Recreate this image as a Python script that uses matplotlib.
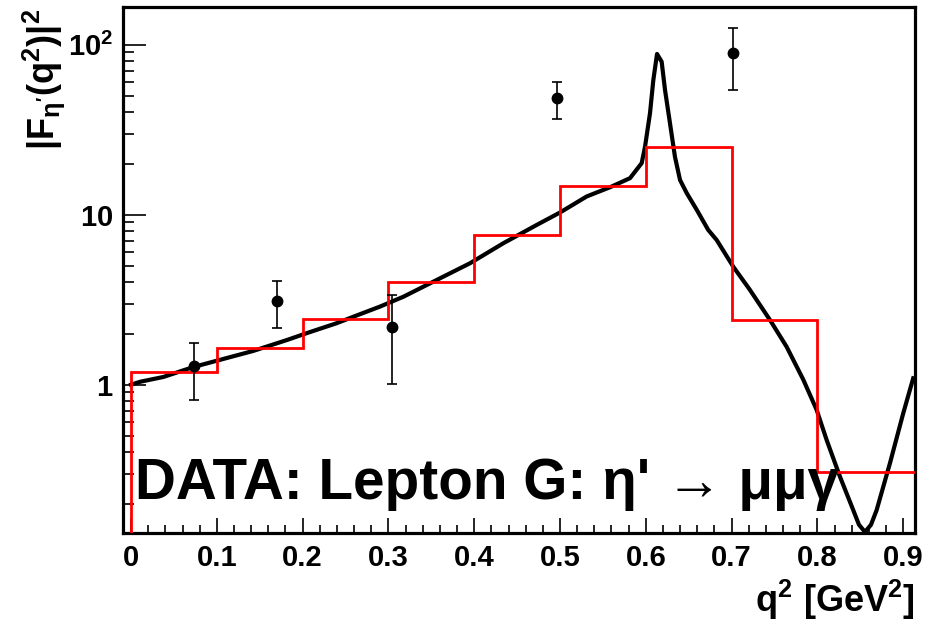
import numpy as np
import matplotlib
matplotlib.use("Agg")
import matplotlib.pyplot as plt
from matplotlib.ticker import FixedLocator, FixedFormatter, MultipleLocator, NullFormatter

# ---------------- data ----------------
# theory curve |F(q^2)|^2
curve_x = [0.000, 0.0105, 0.0376, 0.0726, 0.1037, 0.1425, 0.1815, 0.2048, 0.2397, 0.2591,
           0.2902, 0.3174, 0.3563, 0.3951, 0.4339, 0.4728, 0.5000, 0.5311, 0.5583, 0.5816,
           0.5952, 0.5991, 0.6049, 0.6088, 0.6131, 0.6185, 0.6224, 0.6282, 0.6340, 0.6399,
           0.6477, 0.6593, 0.6728, 0.6826, 0.7020, 0.7214, 0.7448, 0.7642, 0.7836, 0.7992,
           0.8108, 0.8263, 0.8418, 0.8485, 0.8555, 0.8625, 0.8691, 0.8846, 0.9001, 0.9117]
curve_y = [1.00, 1.04, 1.11, 1.27, 1.40, 1.58, 1.83, 2.01, 2.30, 2.51,
           2.88, 3.29, 4.13, 5.18, 6.79, 8.70, 10.3, 12.8, 14.5, 16.4,
           20.1, 25.1, 39.5, 62.0, 88.2, 79.4, 54.2, 34.5, 21.9, 16.0,
           13.4, 10.7, 8.13, 7.10, 4.94, 3.61, 2.40, 1.67, 1.07, 0.710,
           0.473, 0.288, 0.183, 0.150, 0.136, 0.150, 0.183, 0.345, 0.679, 1.09]

# red histogram
hist_edges = [0.0, 0.1, 0.2, 0.3, 0.4, 0.5, 0.6, 0.7, 0.8, 1.0]
hist_vals = [1.18, 1.65, 2.43, 4.04, 7.60, 14.8, 24.9, 2.40, 0.308]

# data points with asymmetric errors
pts_x = [0.0734, 0.1698, 0.3046, 0.4961, 0.7016]
pts_y = [1.29, 3.11, 2.18, 48.8, 89.7]
pts_lo = [0.813, 2.15, 1.01, 36.4, 53.9]
pts_hi = [1.75, 4.09, 3.37, 60.1, 125.0]

x_ticks = [0.0, 0.1, 0.2, 0.3, 0.4, 0.5, 0.6, 0.7, 0.8, 0.9]
x_ticklabels = ["0", "0.1", "0.2", "0.3", "0.4", "0.5", "0.6", "0.7", "0.8", "0.9"]
y_ticks = [1, 10, 100]
y_ticklabels = [r"$\mathbf{1}$", r"$\mathbf{10}$", r"$\mathbf{10^{2}}$"]

annotation = "DATA: Lepton G: η' → μμγ"

# ---------------- style ----------------
plt.rcParams["font.family"] = ["Liberation Sans", "DejaVu Sans"]
plt.rcParams["font.weight"] = "bold"
plt.rcParams["mathtext.fontset"] = "custom"
plt.rcParams["mathtext.rm"] = "Liberation Sans:bold"
plt.rcParams["mathtext.it"] = "Liberation Sans:bold"
plt.rcParams["mathtext.bf"] = "Liberation Sans:bold"
plt.rcParams["mathtext.sf"] = "Liberation Sans:bold"

fig = plt.figure(figsize=(9.43, 6.25), dpi=100)
ax = fig.add_axes([0.1308, 0.1477, 0.9703 - 0.1308, 0.9893 - 0.1477])

ax.set_yscale("log")
ax.set_xlim(-0.009, 0.9138)
ax.set_ylim(0.1347, 167.3)

# curve
ax.plot(curve_x, curve_y, color="black", lw=3.0, zorder=2, solid_joinstyle="round")
# histogram
ax.stairs(hist_vals, hist_edges, baseline=1e-3, color="#ff0000", lw=2.0, zorder=3)
# points
pts_y_a = np.array(pts_y)
yerr = [pts_y_a - np.array(pts_lo), np.array(pts_hi) - pts_y_a]
ax.errorbar(pts_x, pts_y, yerr=yerr, fmt="o", color="black", ms=7.5,
            elinewidth=1.2, capsize=3.5, capthick=1.2, zorder=4)

# ticks
ax.xaxis.set_major_locator(FixedLocator(x_ticks))
ax.xaxis.set_major_formatter(FixedFormatter(x_ticklabels))
ax.xaxis.set_minor_locator(MultipleLocator(0.02))
ax.yaxis.set_major_locator(FixedLocator(y_ticks))
ax.yaxis.set_major_formatter(FixedFormatter(y_ticklabels))
minor_y = [m * 10.0 ** e for e in (-1, 0, 1, 2) for m in range(2, 10)]
ax.yaxis.set_minor_locator(FixedLocator(minor_y))
ax.yaxis.set_minor_formatter(NullFormatter())

ax.tick_params(axis="x", which="major", direction="in", length=11, width=1.2,
               labelsize=21, pad=8, top=False)
ax.tick_params(axis="x", which="minor", direction="in", length=5.5, width=1.2, top=False)
ax.tick_params(axis="y", which="major", direction="in", length=16.5, width=1.2,
               labelsize=21, pad=7, right=False)
ax.tick_params(axis="y", which="minor", direction="in", length=8, width=1.2, right=False)

for s in ax.spines.values():
    s.set_linewidth(2.3)

ax.set_xlabel(r"$\mathbf{q^{2}\ [GeV^{2}]}$", fontsize=26, loc="right")
ax.xaxis.set_label_coords(1.0, -0.085)
ax.set_ylabel(r"$\mathbf{|F_{\eta'}(q^{2})|^{2}}$", fontsize=26, loc="top")
ax.yaxis.set_label_coords(-0.071, 0.995)

t = ax.text(0.005, 0.212, annotation, fontsize=40, fontweight="bold",
            family=["Liberation Sans", "DejaVu Sans"], ha="left", va="baseline", zorder=5)
fig.canvas.draw()
w = t.get_window_extent().width
t.set_fontsize(40 * 703.0 / w)

fig.savefig("out.png", dpi=100)
